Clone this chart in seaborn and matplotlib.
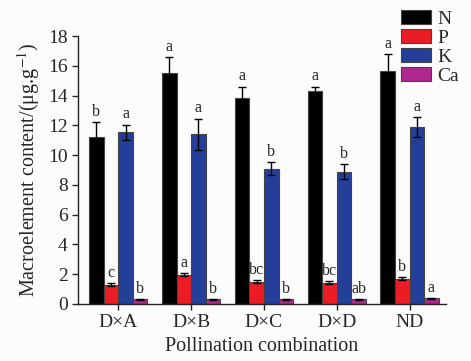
import matplotlib
matplotlib.use("Agg")
import matplotlib.pyplot as plt
import pandas as pd
import seaborn as sns

# data
combos = ["D×A", "D×B", "D×C", "D×D", "ND"]
elements = ["N", "P", "K", "Ca"]
n_vals = [11.2, 15.55, 13.85, 14.3, 15.65]
n_err = [1.0, 1.05, 0.75, 0.3, 1.15]
p_vals = [1.3, 1.97, 1.5, 1.43, 1.7]
p_err = [0.1, 0.12, 0.1, 0.1, 0.12]
k_vals = [11.55, 11.4, 9.1, 8.9, 11.9]
k_err = [0.5, 1.05, 0.45, 0.5, 0.65]
ca_vals = [0.3, 0.3, 0.3, 0.32, 0.38]
ca_err = [0.03, 0.03, 0.03, 0.03, 0.03]
n_sig = ["b", "a", "a", "a", "a"]
p_sig = ["c", "a", "bc", "bc", "b"]
k_sig = ["a", "a", "b", "b", "a"]
ca_sig = ["b", "b", "b", "ab", "a"]

colors = ["#000000", "#ec1c24", "#233f99", "#b0278f"]

vals = {"N": n_vals, "P": p_vals, "K": k_vals, "Ca": ca_vals}
errs = {"N": n_err, "P": p_err, "K": k_err, "Ca": ca_err}
sigs = {"N": n_sig, "P": p_sig, "K": k_sig, "Ca": ca_sig}

rows = []
for el in elements:
    for i, c in enumerate(combos):
        rows.append({"combo": c, "element": el, "value": vals[el][i]})
df = pd.DataFrame(rows)

sns.set_style("ticks")
plt.rcParams["font.family"] = ["Liberation Serif", "DejaVu Serif"]
plt.rcParams["mathtext.fontset"] = "stix"

fig = plt.figure(figsize=(4.71, 3.61), dpi=100)
fig.patch.set_facecolor("#fcfcfc")
ax = fig.add_axes([0.166, 0.158, 0.781, 0.742])
ax.set_facecolor("#fcfcfc")

sns.barplot(data=df, x="combo", y="value", hue="element", order=combos,
            hue_order=elements, palette=colors, saturation=1, width=0.8,
            errorbar=None, edgecolor="#444444", linewidth=0.8, ax=ax)

# error bars and significance letters on each bar
for el, cont in zip(elements, ax.containers):
    for i, bar in enumerate(cont):
        cx = bar.get_x() + bar.get_width() / 2
        top = bar.get_height() + errs[el][i]
        ax.errorbar(cx, bar.get_height(), yerr=errs[el][i], fmt="none",
                    ecolor="black", elinewidth=1, capsize=3, capthick=1)
        ax.text(cx, top + 0.15, sigs[el][i], ha="center", va="bottom",
                fontsize=11.5)

ax.set_xlim(-0.55, 4.5)
ax.set_ylim(0, 18)
ax.set_yticks(range(0, 19, 2))
ax.tick_params(axis="both", labelsize=14, direction="out", length=4, width=1)
for s in ["left", "bottom"]:
    ax.spines[s].set_linewidth(1)
    ax.spines[s].set_color("#222222")
sns.despine(ax=ax)

ax.set_xlabel("Pollination combination", fontsize=14.5)
ax.set_ylabel("Macroelement content/(μg.g$^{-1}$)", fontsize=14.5)

ax.legend(loc="upper left", bbox_to_anchor=(0.852, 0.972),
          bbox_transform=fig.transFigure, frameon=False, fontsize=14,
          handlelength=1.55, handleheight=0.75, labelspacing=0.05,
          handletextpad=0.3, borderaxespad=0, borderpad=0)

fig.savefig("out.png", dpi=100, facecolor=fig.get_facecolor())
